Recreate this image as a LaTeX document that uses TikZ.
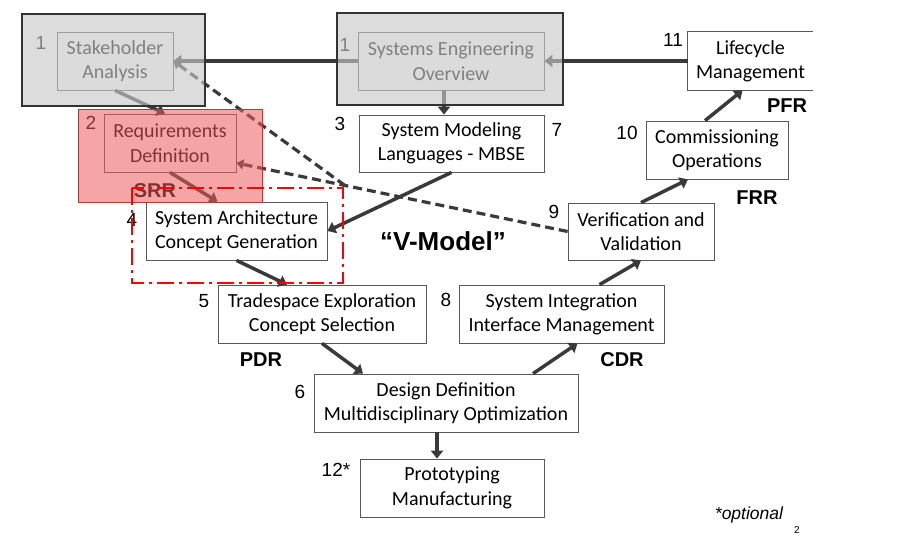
\documentclass[tikz,border=0pt]{standalone}
\usepackage{fontspec}
\setmainfont{Carlito}
\newfontfamily\arialfont{Liberation Sans}
\usetikzlibrary{arrows.meta}
\usetikzlibrary{positioning}
\usepackage{xcolor}
\definecolor{panegray}{RGB}{200,200,200}
\definecolor{reqred}{RGB}{236,91,91}
\definecolor{reqedge}{RGB}{192,52,52}
\definecolor{arrowgray}{RGB}{58,58,58}

\begin{document}
\begin{tikzpicture}[x=1pt,y=-1pt,
	box/.style={draw=black!65, line width=0.8pt, fill=white, align=center, inner sep=0pt, font=\fontsize{20}{24.4}\selectfont},
	num/.style={font=\arialfont\fontsize{19}{22}\selectfont},
	review/.style={font=\arialfont\bfseries\fontsize{20}{24}\selectfont},
	flow/.style={draw=arrowgray, line width=3.5pt, -{Triangle[length=8pt,width=12pt]}},
	back/.style={draw=arrowgray, line width=3.2pt, dash pattern=on 9pt off 5pt, -{Triangle[length=7pt,width=10pt]}}]
				\useasboundingbox (0,0) rectangle (905,558);
				\node[box, minimum width=116pt, minimum height=58pt] (sa) at (115,61) {Stakeholder\\Analysis};
				\node[box, minimum width=186pt, minimum height=58pt] (seo) at (451,61) {Systems Engineering\\Overview};
				\node[box, minimum width=132pt, minimum height=58pt] (rd) at (170,143) {Requirements\\Definition};
				\node[box, minimum width=181pt, minimum height=58pt] (arch) at (236.5,231) {System Architecture\\Concept Generation};
				\node[box, minimum width=185pt, minimum height=57pt] (sml) at (451.5,143.5) {System Modeling\\Languages - MBSE};
				\node[box, draw=none, minimum width=125pt, minimum height=58pt] (lm) at (750.5,61) {Lifecycle\\Management};
				\draw[draw=black!65, line width=0.8pt] (lm.north east) -- (lm.north west) -- (lm.south west) -- (lm.south east);
				\node[box, minimum width=142pt, minimum height=58pt] (co) at (717,150) {Commissioning\\Operations};
				\node[box, minimum width=146pt, minimum height=57pt] (vv) at (641,231.5) {Verification and\\Validation};
				\node[box, minimum width=208pt, minimum height=58pt] (ts) at (322,314) {Tradespace Exploration\\Concept Selection};
				\node[box, minimum width=205pt, minimum height=58pt] (si) at (561.5,314) {System Integration\\Interface Management};
				\node[box, minimum width=264pt, minimum height=58pt] (dd) at (446,403) {Design Definition\\Multidisciplinary Optimization};
				\node[box, minimum width=184pt, minimum height=58pt] (pm) at (452,488) {Prototyping\\Manufacturing};
				\node[num] (n1a) at (41,43) {1};
				\node[num] (n1b) at (345,45) {1};
				\node[num] (n2) at (91,123) {2};
				\node[num] (n3) at (340,124) {3};
				\node[num] (n4) at (132,220) {4};
				\node[num] (n5) at (204,301) {5};
				\node[num] (n6) at (300,392) {6};
				\node[num] (n7) at (557,130) {7};
				\node[num] (n8) at (446,300) {8};
				\node[num] (n9) at (554,212) {9};
				\node[num] (n10) at (627,133) {10};
				\node[num] (n11) at (673,40) {11};
				\node[num] (n12) at (336,470) {12*};
				\node[review] (srr) at (155,191) {SRR};
				\node[review] (pdr) at (261,360) {PDR};
				\node[review] (cdr) at (622,360) {CDR};
				\node[review] (frr) at (757,198) {FRR};
				\node[review] (pfr) at (787,106) {PFR};
				\node[font=\arialfont\bfseries\fontsize{26}{30}\selectfont] (vm) at (443,241) {“V-Model”};
				\node[font=\arialfont\itshape\fontsize{17.5}{20}\selectfont] (opt) at (749,515) {*optional};
				\node[font=\arialfont\fontsize{10}{12}\selectfont] (pg) at (797,530) {2};
				\coordinate (j) at (345,185.5);
				\draw[back] (vv.west) -- ([yshift=-20pt]rd.east);
				\draw[back] (j) -- (sa.east);
				\draw[flow] (sa.south) -- ([xshift=-5pt]rd.north);
				\draw[flow] (rd.south) -- ([xshift=-19pt]arch.north);
				\draw[flow] (arch.south) -- ([xshift=-35pt]ts.north);
				\draw[flow] (ts.south) -- ([xshift=-83pt]dd.north);
				\draw[flow] ([xshift=87pt]dd.north) -- ([xshift=16pt]si.south);
				\draw[flow] ([xshift=38pt]si.north) -- (vv.south);
				\draw[flow] (vv.north) -- ([xshift=-29pt]co.south);
				\draw[flow] ([xshift=-12pt]co.north) -- ([xshift=-8pt]lm.south);
				\draw[flow] ([xshift=-7pt]seo.south) -- ([xshift=-7pt]seo.south |- sml.north);
				\draw[flow] (sml.south) -- (arch.east);
				\draw[flow] ([xshift=-9pt]dd.south) -- ([xshift=-9pt]dd.south |- pm.north);
				\draw[flow] (lm.west) -- (seo.east);
				\draw[flow] (seo.west) -- (sa.east);
				\fill[panegray, opacity=0.64] (22,14) rectangle (205,106);
				\fill[panegray, opacity=0.64] (337,13) rectangle (563,105);
				\draw[black!80, line width=1.2pt] (22,14) rectangle (205,106);
				\draw[black!80, line width=1.2pt] (337,13) rectangle (563,105);
				\fill[reqred, opacity=0.55] (78,109) rectangle (262,202);
				\draw[reqedge, line width=1pt] (78,109) rectangle (262,202);
				\draw[red, line width=2.5pt, dash pattern=on 17pt off 5pt on 3pt off 5pt] (132,188) rectangle (343,283);
			\end{tikzpicture}
\end{document}
